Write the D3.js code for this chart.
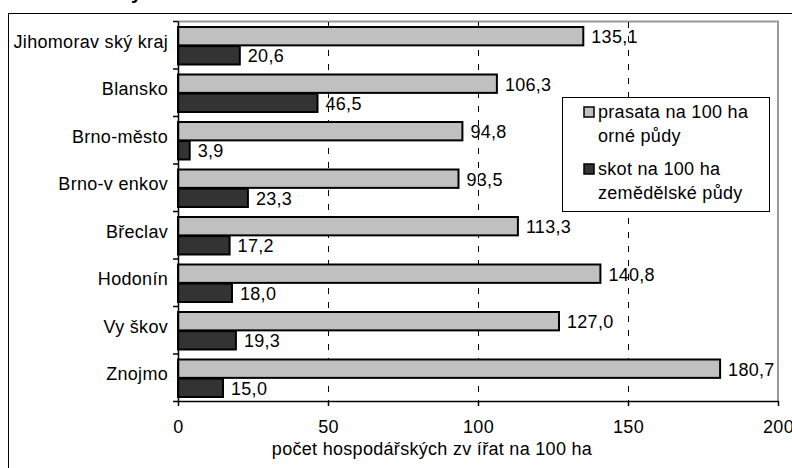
<!DOCTYPE html>
<html>
<head>
<meta charset="utf-8">
<script src="https://cdn.jsdelivr.net/npm/d3@7"></script>
<style>
  html, body { margin: 0; padding: 0; background: #fff; }
  svg { display: block; }
  text { font-family: "Liberation Sans", Arial, sans-serif; fill: #000; }
</style>
</head>
<body>
<svg id="chart" width="792" height="468"></svg>
<script>
const categories = ["Jihomorav ský kraj", "Blansko", "Brno-město", "Brno-v enkov", "Břeclav", "Hodonín", "Vy škov", "Znojmo"];
const prasata = [135.1, 106.3, 94.8, 93.5, 113.3, 140.8, 127.0, 180.7];
const skot = [20.6, 46.5, 3.9, 23.3, 17.2, 18.0, 19.3, 15.0];
const seriesNames = ["prasata na 100 ha orné půdy", "skot na 100 ha zemědělské půdy"];
const legendLines = [["prasata na 100 ha", "orné půdy"], ["skot na 100 ha", "zemědělské půdy"]];
const xTicks = [0, 50, 100, 150, 200];
const xTitle = "počet hospodářských zv ířat na 100 ha";

const seriesValues = [prasata, skot];
const colors = ["#c0c0c0", "#333333"];
const FS = 18, LS = "0.3px";

const svg = d3.select("#chart");
const pLeft = 178, pRight = 778, pTop = 21, pBottom = 401;

// Title fragment (cut at top, as in the reference)
svg.append("text").attr("x", 131).attr("y", -1)
  .attr("font-size", 20).attr("font-weight", "bold").text("y");

// Outer frame
svg.append("rect").attr("x", 8.5).attr("y", 13.5).attr("width", 900).attr("height", 600)
  .attr("fill", "none").attr("stroke", "#000").attr("stroke-width", 1);

const x = d3.scaleLinear().domain([0, 200]).range([pLeft, pRight]);
const y = d3.scaleBand().domain(categories).range([pTop, pBottom]).padding(0);
const ySub = d3.scaleBand().domain([0, 1]).range([6, y.bandwidth() - 4]).paddingInner(0.04);
const yIdx = d3.scaleLinear().domain([0, categories.length]).range([pTop, pBottom]);

// plot area border (grey top and right)
svg.append("path")
  .attr("d", `M${pLeft},${pTop + 0.5}H${pRight}V${pBottom}`)
  .attr("fill", "none").attr("stroke", "#999").attr("stroke-width", 2);

// gridlines
svg.append("g").selectAll("line").data(xTicks.filter(v => v > 0 && v < 200)).join("line")
  .attr("x1", d => Math.round(x(d)) + 0.5).attr("x2", d => Math.round(x(d)) + 0.5)
  .attr("y1", pTop + 1).attr("y2", pBottom)
  .attr("stroke", "#000").attr("stroke-width", 1).attr("stroke-dasharray", "6,8");

// bars
const g = svg.append("g");
seriesValues.forEach((vals, s) => {
  g.append("g").selectAll("rect").data(vals).join("rect")
    .attr("x", x(0))
    .attr("y", (d, i) => y(categories[i]) + ySub(s))
    .attr("width", d => x(d) - x(0))
    .attr("height", ySub.bandwidth())
    .attr("fill", colors[s]).attr("stroke", "#000").attr("stroke-width", 2);
  g.append("g").selectAll("text").data(vals).join("text")
    .attr("x", d => x(d) + 8)
    .attr("y", (d, i) => y(categories[i]) + ySub(s) + ySub.bandwidth() / 2 + 7)
    .attr("font-size", FS).attr("letter-spacing", LS)
    .text(d => d3.format(".1f")(d).replace(".", ","));
});

// bottom axis
const xAxis = svg.append("g").attr("transform", `translate(0,${pBottom})`)
  .call(d3.axisBottom(x).tickValues(xTicks).tickSize(5).tickSizeOuter(0).tickFormat(d => d));
xAxis.select(".domain").attr("stroke", "#000").attr("stroke-width", 1.5);
xAxis.selectAll(".tick line").attr("stroke", "#000").attr("stroke-width", 1.5);
xAxis.selectAll(".tick text").attr("y", 32).attr("dy", null)
  .attr("font-size", FS).attr("letter-spacing", LS)
  .attr("font-family", "Liberation Sans, Arial, sans-serif").attr("fill", "#000");

// left axis (ticks at category boundaries)
const yAxis = svg.append("g").attr("transform", `translate(${pLeft},0)`)
  .call(d3.axisLeft(yIdx).tickValues(d3.range(categories.length + 1)).tickSize(5).tickSizeOuter(0).tickFormat(""));
yAxis.select(".domain").attr("stroke", "#000").attr("stroke-width", 1.5);
yAxis.selectAll(".tick line").attr("stroke", "#000").attr("stroke-width", 1.5);

// category labels
svg.append("g").selectAll("text").data(categories).join("text")
  .attr("x", 168).attr("y", d => y(d) + y.bandwidth() / 2 + 3)
  .attr("text-anchor", "end").attr("font-size", FS).attr("letter-spacing", LS)
  .text(d => d);

// axis title
svg.append("text").attr("x", 432).attr("y", 455).attr("text-anchor", "middle")
  .attr("font-size", FS).attr("letter-spacing", LS).text(xTitle);

// legend
const lg = svg.append("g");
lg.append("rect").attr("x", 562.5).attr("y", 97.5).attr("width", 207).attr("height", 114)
  .attr("fill", "#fff").attr("stroke", "#000").attr("stroke-width", 1);
const itemY = [107, 164];
legendLines.forEach((lines, s) => {
  lg.append("rect").attr("x", 584).attr("y", itemY[s]).attr("width", 10).attr("height", 10)
    .attr("fill", colors[s]).attr("stroke", "#000").attr("stroke-width", 1.5);
  lines.forEach((t, k) => {
    lg.append("text").attr("x", 598).attr("y", itemY[s] + 11 + k * 23.5)
      .attr("font-size", FS).attr("letter-spacing", LS).text(t);
  });
});
</script>
</body>
</html>
